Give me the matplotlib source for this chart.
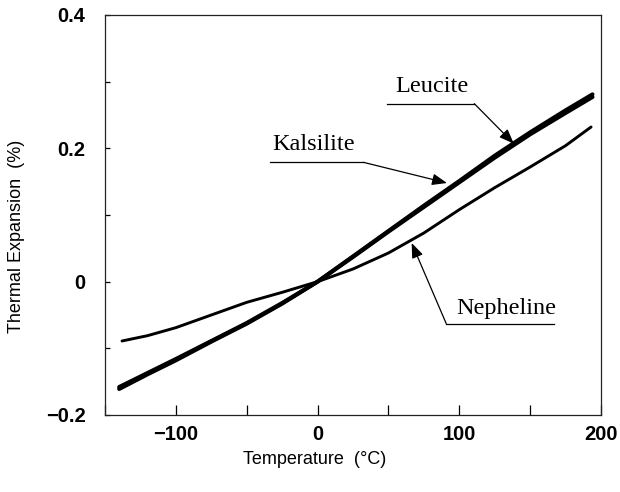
import matplotlib
matplotlib.use("Agg")
import matplotlib.pyplot as plt
from matplotlib.ticker import MultipleLocator, FixedLocator, FixedFormatter

# ---- data ----
temp_thick = [-140, -120, -100, -75, -50, -25, 0, 25, 50, 75, 100, 125, 150, 175, 194]
kalsilite = [-0.161, -0.139, -0.118, -0.090, -0.063, -0.033, 0.0, 0.037, 0.075, 0.112, 0.149, 0.186, 0.221, 0.253, 0.277]
leucite = [-0.158, -0.137, -0.116, -0.089, -0.062, -0.032, 0.0, 0.038, 0.076, 0.114, 0.151, 0.189, 0.224, 0.257, 0.281]

temp_neph = [-138, -120, -100, -75, -50, -25, 0, 25, 50, 75, 100, 125, 150, 175, 193]
nepheline = [-0.089, -0.081, -0.069, -0.050, -0.031, -0.016, 0.0, 0.019, 0.043, 0.073, 0.108, 0.141, 0.172, 0.204, 0.232]

x_ticks = [-100, 0, 100, 200]
x_ticklabels = ["\u2212100", "0", "100", "200"]
y_ticks = [-0.2, 0.0, 0.2, 0.4]
y_ticklabels = ["\u22120.2", "0", "0.2", "0.4"]

labels = ["Leucite", "Kalsilite", "Nepheline"]
# annotation geometry: text position, underline x-range, underline y, arrow tip
text_pos = [(81, 0.284), (-2.5, 0.198), (133, -0.049)]
underline_x = [(49, 110.6), (-33.3, 32.4), (90.8, 166.7)]
underline_y = [0.267, 0.179, -0.063]
arrow_start = [(110.6, 0.267), (32.4, 0.179), (90.8, -0.063)]
arrow_tip = [(138.5, 0.207), (91.3, 0.148), (66.4, 0.058)]

# ---- figure ----
fig = plt.figure(figsize=(6.2, 4.92), dpi=100)
ax = fig.add_axes([105 / 620, 1 - 415 / 492, 496 / 620, 400 / 492])

ax.plot(temp_thick, kalsilite, color="black", lw=2.9, solid_capstyle="round")
ax.plot(temp_thick, leucite, color="black", lw=2.9, solid_capstyle="round")
ax.plot(temp_neph, nepheline, color="black", lw=2.1, solid_capstyle="round")

ax.set_xlim(-150, 200)
ax.set_ylim(-0.2, 0.4)

ax.xaxis.set_major_locator(FixedLocator(x_ticks))
ax.xaxis.set_major_formatter(FixedFormatter(x_ticklabels))
ax.xaxis.set_minor_locator(MultipleLocator(50))
ax.yaxis.set_major_locator(FixedLocator(y_ticks))
ax.yaxis.set_major_formatter(FixedFormatter(y_ticklabels))
ax.yaxis.set_minor_locator(MultipleLocator(0.1))

ax.tick_params(axis="x", which="both", direction="in", length=7, width=0.9,
               pad=7, top=False)
ax.tick_params(axis="y", which="both", direction="in", length=3.5, width=0.9,
               pad=14, right=False)
for lab in ax.get_xticklabels() + ax.get_yticklabels():
    lab.set_fontfamily("Liberation Sans")
    lab.set_fontweight("bold")
    lab.set_fontsize(14.5)

for sp in ax.spines.values():
    sp.set_linewidth(0.9)
    sp.set_color("#222222")

# annotations
for lbl, tp, ux, uy, a0, a1 in zip(labels, text_pos, underline_x, underline_y,
                                   arrow_start, arrow_tip):
    ax.text(tp[0], tp[1], lbl, ha="center", va="baseline",
            fontfamily="Liberation Serif", fontsize=17.5)
    ax.plot(list(ux), [uy, uy], color="black", lw=0.9)
    ax.annotate("", xy=a1, xytext=a0,
                arrowprops=dict(arrowstyle="-|>,head_length=0.9,head_width=0.35",
                                color="black", lw=0.9, shrinkA=0, shrinkB=0))

fig.text(17 / 620, 1 - 236 / 492, "Thermal Expansion  (%)", rotation=90,
         ha="center", va="center", fontfamily="Liberation Sans", fontsize=13)
fig.text(315 / 620, 1 - 459 / 492, "Temperature  (\u00b0C)",
         ha="center", va="center", fontfamily="Liberation Sans", fontsize=13)

fig.savefig("out.png", dpi=100)
